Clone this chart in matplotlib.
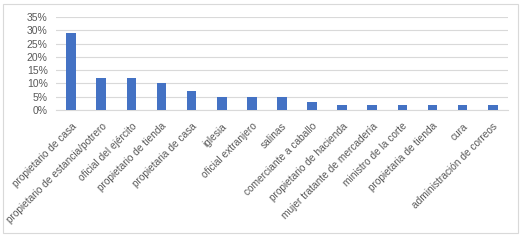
import matplotlib.pyplot as plt
from matplotlib.patches import Rectangle
from matplotlib.ticker import PercentFormatter

categories = [
    "propietario de casa", "propietario de estancia/potrero", "oficial del ejército",
    "propietario de tienda", "propietaria de casa", "iglesia", "oficial extranjero",
    "salinas", "comerciante a caballo", "propietario de hacienda",
    "mujer tratante de mercadería", "ministro de la corte", "propietaria de tienda",
    "cura", "administración de correos",
]
shares = [0.29, 0.12, 0.12, 0.10, 0.07, 0.05, 0.05, 0.05, 0.03, 0.02, 0.02, 0.02, 0.02, 0.02, 0.02]
yticks = [0, 0.05, 0.10, 0.15, 0.20, 0.25, 0.30, 0.35]

plt.rcParams["font.family"] = ["Liberation Sans", "DejaVu Sans"]

fig = plt.figure(figsize=(5.24, 2.43), dpi=100)
ax = fig.add_axes([0.107, 0.547, 0.862, 0.383])

x = range(len(categories))
ax.bar(x, shares, width=0.32, color="#4472C4", zorder=3)

ax.set_xlim(-0.5, len(categories) - 0.5)
ax.set_ylim(0, 0.35)
ax.set_yticks(yticks)
ax.yaxis.set_major_formatter(PercentFormatter(1.0, decimals=0))
ax.grid(axis="y", color="#d9d9d9", linewidth=0.8, zorder=0)

ax.set_xticks(list(x))
ax.set_xticklabels(categories, rotation=45, ha="right", rotation_mode="anchor",
                   fontsize=7.3, color="#595959")
ax.tick_params(axis="y", labelsize=7.5, labelcolor="#595959", length=0, pad=6)
ax.tick_params(axis="x", length=0, pad=8)

for side in ["top", "right", "left"]:
    ax.spines[side].set_visible(False)
ax.spines["bottom"].set_color("#d9d9d9")

# light chart-area border
fig.patches.append(Rectangle((3 / 524, 10 / 243), 515 / 524, 229 / 243, transform=fig.transFigure,
                             fill=False, edgecolor="#d9d9d9", linewidth=0.8))

fig.savefig("out.png", dpi=100)
